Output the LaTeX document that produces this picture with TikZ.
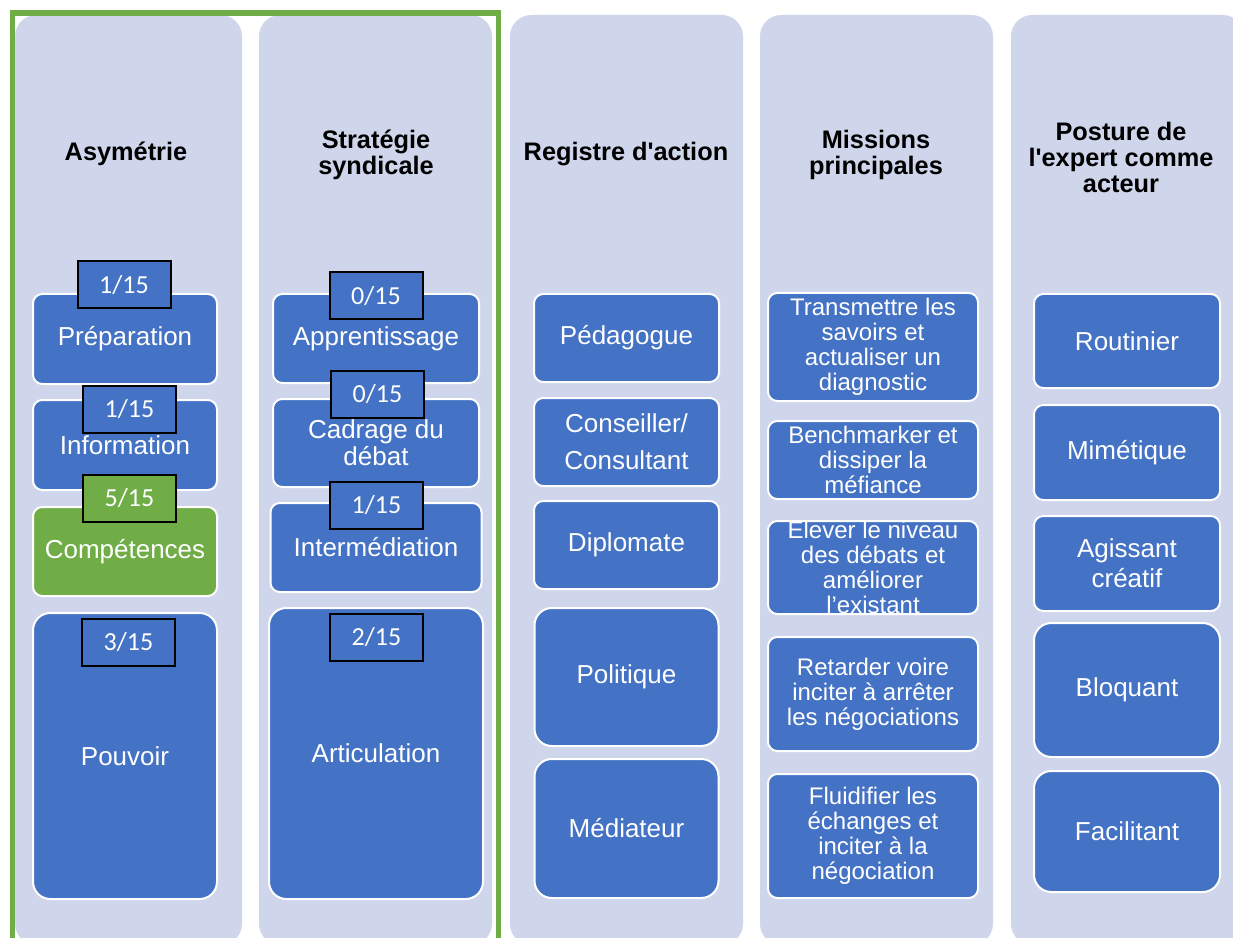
\documentclass[tikz,border=0pt]{standalone}
\usepackage{fontspec}
\setmainfont{Liberation Sans}
\newfontfamily\badgefont{Carlito}
\definecolor{lavender}{HTML}{CFD5EA}
\definecolor{accent}{HTML}{4472C4}
\definecolor{success}{HTML}{70AD47}
\usepackage{tikz}
\usetikzlibrary{positioning}
\tikzset{
  col_bg/.style={fill=lavender,rounded corners=16pt,anchor=north west,
    minimum width=174.75pt,minimum height=697.5pt,inner sep=0pt,outer sep=0pt},
  col_head/.style={font=\fontsize{19}{19.5}\selectfont\bfseries,align=center,text=black},
  node_box/.style={draw=white,line width=1.5pt,fill=accent,rounded corners=7pt,
    minimum width=138pt,minimum height=67.5pt,inner sep=1pt,
    font=\fontsize{19.5}{20.25}\selectfont,text=white,align=center},
  node_tall/.style={node_box,rounded corners=13pt},
  node_green/.style={node_box,fill=success},
  node_mission/.style={node_box,minimum width=157.5pt,inner sep=0pt,
    font=\fontsize{18}{18.75}\selectfont},
  badge/.style={draw=black,line width=1.5pt,fill=accent,minimum width=69.75pt,
    minimum height=35.25pt,inner sep=0pt,font=\badgefont\fontsize{19.5}{20}\selectfont,text=white},
  badge_green/.style={badge,fill=success},
}

\begin{document}
\begin{tikzpicture}[x=0.75pt,y=-0.75pt]
  \useasboundingbox (0,0) rectangle (1233,938);
  \clip (0,0) rectangle (1233,938);
  \fill[white] (0,0) rectangle (1233,938);

  % columns
  \node[col_bg,minimum width=170.25pt] (col1) at (15,15) {};
  \node[col_bg] (col2) at (259,15) {};
  \node[col_bg] (col3) at (510,15) {};
  \node[col_bg] (col4) at (760,15) {};
  \node[col_bg] (col5) at (1011,15) {};

  \node[col_head] (h1) at (126,154) {Asymétrie};
  \node[col_head] (h2) at (376,155) {Stratégie\\syndicale};
  \node[col_head] (h3) at (626,154) {Registre d\textquotesingle action};
  \node[col_head] (h4) at (876,155) {Missions\\principales};
  \node[col_head] (h5) at (1121,157) {Posture de\\l\textquotesingle expert comme\\acteur};

  % Asymetrie
  \node[node_box] (prep) at (125,339) {Préparation};
  \node[node_box,below=10.5pt of prep] (info) {Information};
  \node[node_green,minimum height=66.75pt,below=11.25pt of info] (comp) {Compétences};
  \node[node_tall,minimum height=214.5pt,below=11.25pt of comp] (pouv) {Pouvoir};

  % Strategie syndicale
  \node[node_box,minimum width=154.5pt,minimum height=66.75pt] (appr) at (376,338.5) {Apprentissage};
  \node[node_box,minimum width=154.5pt,minimum height=66pt,below=10.5pt of appr] (cadr) {Cadrage du\\débat};
  \node[node_box,minimum width=158.25pt,minimum height=66.75pt,below=10.5pt of cadr] (inter) {Intermédiation};
  \node[node_tall,minimum width=160.5pt,minimum height=218.25pt,below=10.5pt of inter] (artic) {Articulation};

  % Registre d'action
  \node[node_box,minimum width=138.75pt,minimum height=66pt] (peda) at (626.5,338) {Pédagogue};
  \node[node_box,minimum width=138.75pt,minimum height=66pt,below=10.5pt of peda,
    font=\fontsize{19.5}{28}\selectfont] (cons) {Conseiller/\\Consultant};
  \node[node_box,minimum width=138.75pt,minimum height=66pt,below=9.75pt of cons] (dipl) {Diplomate};
  \node[node_tall,minimum height=103.5pt,below=12.75pt of dipl] (poli) {Politique};
  \node[node_tall,minimum height=104.25pt,below=8.25pt of poli] (medi) {Médiateur};

  % Missions principales
  \node[node_mission,minimum height=81pt] (trans) at (873,347)
    {Transmettre les\\savoirs et\\actualiser un\\diagnostic};
  \node[node_mission,minimum height=58.5pt,below=13.5pt of trans] (bench)
    {Benchmarker et\\dissiper la\\méfiance};
  \node[node_mission,minimum height=69.75pt,inner ysep=-5pt,below=15pt of bench] (elev)
    {Elever le niveau\\des débats et\\améliorer\\l’existant};
  \node[node_mission,minimum height=85.5pt,below=15.75pt of elev] (reta)
    {Retarder voire\\inciter à arrêter\\les négociations};
  \node[node_mission,minimum height=93pt,below=15.75pt of reta] (flui)
    {Fluidifier les\\échanges et\\inciter à la\\négociation};

  % Posture de l'expert
  \node[node_box,minimum width=139.5pt,minimum height=70.5pt] (rout) at (1127,341) {Routinier};
  \node[node_box,minimum width=139.5pt,minimum height=71.25pt,below=11.25pt of rout] (mime) {Mimétique};
  \node[node_box,minimum width=139.5pt,minimum height=71.25pt,below=10.5pt of mime,
    font=\fontsize{19.5}{22.5}\selectfont] (agis) {Agissant\\créatif};
  \node[node_tall,minimum width=139.5pt,minimum height=100.5pt,below=7.5pt of agis] (bloq) {Bloquant};
  \node[node_tall,minimum width=139.5pt,minimum height=90.75pt,below=9pt of bloq] (faci) {Facilitant};

  % scores
  \node[badge] (s_prep) at (124,285) {1/15};
  \node[badge] (s_info) at (129.5,409) {1/15};
  \node[badge_green] (s_comp) at (129.5,498) {5/15};
  \node[badge] (s_pouv) at (128.5,642) {3/15};
  \node[badge] (s_appr) at (376,296) {0/15};
  \node[badge] (s_cadr) at (377.5,394.5) {0/15};
  \node[badge] (s_inter) at (376.5,505) {1/15};
  \node[badge] (s_artic) at (376.5,637) {2/15};

  \draw[success,line width=4.1pt] (12.5,960) |- (498.5,13) -- (498.5,960);
\end{tikzpicture}
\end{document}
